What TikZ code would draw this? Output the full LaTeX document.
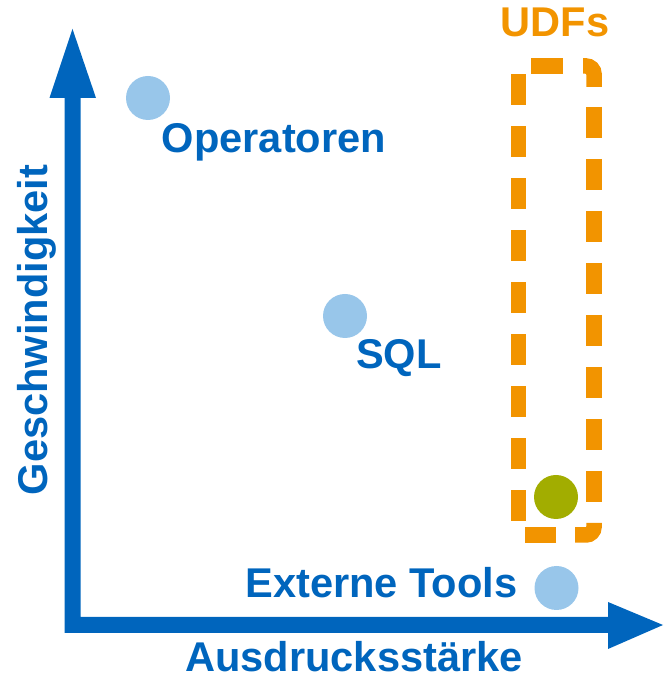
\documentclass[tikz,border=0pt]{standalone}
\usepackage{fontspec}
\setmainfont{Liberation Sans}
\definecolor{tumblue}{HTML}{0065BD}
\definecolor{lightblue}{HTML}{98C6EA}
\definecolor{udforange}{HTML}{F29400}
\definecolor{udfgreen}{HTML}{A2AD00}
\begin{document}
\begin{tikzpicture}[x=1pt,y=1pt,
  lbl/.style={font=\fontsize{41.6}{50}\selectfont\bfseries, text=tumblue, inner sep=0pt},
  dot/.style={circle, fill=lightblue, minimum size=44pt, inner sep=0pt},
  axis/.style={fill=tumblue},
  udfline/.style={draw=udforange, line width=15.5},
  udfdash/.style={udfline, dash pattern=on 31 off 21}]
\useasboundingbox (0,0) rectangle (663,679);
% axes
\fill[axis] (64.5,46) -- (608,46) -- (608,30) -- (663,54) -- (608,77) -- (608,62)
  -- (80.5,62) -- (80.5,581) -- (96,581) -- (72.5,650) -- (49.5,581) -- (64.5,581) -- cycle;
\node[lbl, anchor=base] (xlab) at (354,8) {Ausdrucksstärke};
\node[lbl, anchor=base, rotate=90] (ylab) at (47,349) {Geschwindigkeit};
% points
\node[dot] (op) at (148,581) {};
\node[lbl, anchor=base] (optext) at (274,526) {Operatoren};
\node[dot] (sql) at (345,363) {};
\node[lbl, anchor=base] (sqltext) at (399,310) {SQL};
\node[dot] (ext) at (556.5,91) {};
\node[lbl, anchor=base] (exttext) at (381.5,81) {Externe Tools};
\node[circle, fill=udfgreen, minimum size=44pt, inner sep=0pt] (udf) at (556,182) {};
% UDF box (dashed, rounded)
\coordinate (tl) at (518.5,613);
\coordinate (tr) at (594,613);
\coordinate (br) at (594,144);
\coordinate (bl) at (518.5,144);
\draw[udfline] (531,613) -- (563,613);
\draw[udfline, rounded corners=8] (583,613) -- (tr) -- (594,592);
\draw[udfdash] (594,572) -- (594,177);
\draw[udfline, rounded corners=8] (594,156) -- (br) -- (575,144);
\draw[udfline] (556,144) -- (525,144);
\draw[udfdash] (518.5,158) -- (518.5,605);
\node[lbl, text=udforange, anchor=base] (udftext) at (555,642) {UDFs};
\end{tikzpicture}
\end{document}
